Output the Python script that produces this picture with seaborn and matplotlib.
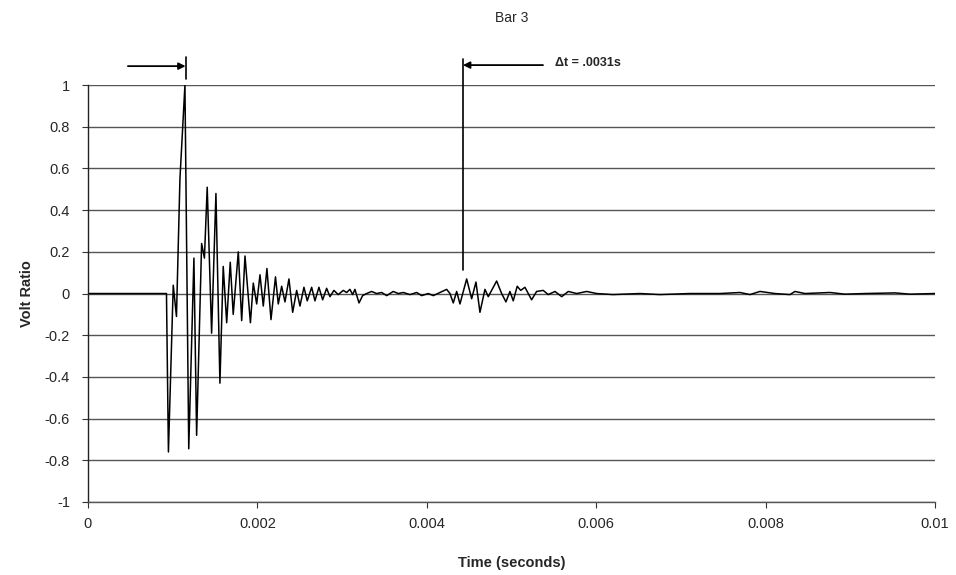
import numpy as np
import pandas as pd
import matplotlib
matplotlib.use("Agg")
import matplotlib.pyplot as plt
import seaborn as sns

# signal: time (s) and volt ratio
time_s = [
    0.0, 0.000909, 0.000927, 0.000950, 0.001007, 0.001045, 0.001086, 0.001145,
    0.001190, 0.001251, 0.001283, 0.001342, 0.001375, 0.001408, 0.001460,
    0.001511, 0.001558, 0.001597, 0.001638, 0.001680, 0.001715, 0.001775,
    0.001815, 0.001854, 0.001918, 0.001952, 0.001992, 0.002031, 0.002070,
    0.002113, 0.002161, 0.002214, 0.002247, 0.002287, 0.002326, 0.002373,
    0.002417, 0.002464, 0.002503, 0.002550, 0.002589, 0.002641, 0.002680,
    0.002727, 0.002771, 0.002818, 0.002857, 0.002904, 0.002955, 0.003014,
    0.003054, 0.003093, 0.003125, 0.003152, 0.003200, 0.003243, 0.003290,
    0.003349, 0.003408, 0.003468, 0.003527, 0.003604, 0.003664, 0.003723,
    0.003802, 0.003881, 0.003940, 0.004018, 0.004077, 0.004156, 0.004235,
    0.004274, 0.004313, 0.004353, 0.004392, 0.004471, 0.004530, 0.004581,
    0.004628, 0.004687, 0.004726, 0.004825, 0.004884, 0.004935, 0.004982,
    0.005021, 0.005068, 0.005109, 0.005159, 0.005238, 0.005297, 0.005375,
    0.005434, 0.005514, 0.005593, 0.005671, 0.005770, 0.005888, 0.006006,
    0.006198, 0.006517, 0.006753, 0.007107, 0.007462, 0.007698, 0.007816,
    0.007934, 0.008111, 0.008288, 0.008347, 0.008465, 0.008760, 0.008937,
    0.009174, 0.009528, 0.009705, 0.010000,
]
volt_ratio = [
    0.0, 0.0, 0.0, -0.76, 0.04, -0.11, 0.55, 1.0,
    -0.745, 0.17, -0.68, 0.24, 0.17, 0.51, -0.19,
    0.48, -0.43, 0.13, -0.14, 0.15, -0.10, 0.20,
    -0.13, 0.18, -0.14, 0.05, -0.05, 0.09, -0.06,
    0.12, -0.125, 0.08, -0.05, 0.035, -0.04, 0.07,
    -0.09, 0.015, -0.06, 0.03, -0.035, 0.03, -0.035,
    0.03, -0.03, 0.025, -0.015, 0.015, -0.005, 0.015,
    0.005, 0.02, -0.005, 0.02, -0.045, -0.01, 0.0,
    0.01, 0.0, 0.005, -0.01, 0.01, 0.0, 0.005,
    -0.005, 0.005, -0.01, 0.0, -0.01, 0.005, 0.02,
    0.0, -0.045, 0.01, -0.05, 0.07, -0.025, 0.055,
    -0.09, 0.02, -0.015, 0.06, 0.0, -0.04, 0.01,
    -0.035, 0.035, 0.015, 0.03, -0.03, 0.01, 0.015,
    -0.005, 0.01, -0.015, 0.01, 0.0, 0.01, 0.0,
    -0.005, 0.0, -0.005, 0.0, 0.0, 0.005, -0.005,
    0.01, 0.0, -0.005, 0.01, 0.0, 0.005, -0.003,
    0.0, 0.003, -0.003, 0.0,
]

x_ticks = [0, 0.002, 0.004, 0.006, 0.008, 0.01]
x_tick_labels = ["0", "0.002", "0.004", "0.006", "0.008", "0.01"]
y_ticks = [1, 0.8, 0.6, 0.4, 0.2, 0, -0.2, -0.4, -0.6, -0.8, -1]
y_tick_labels = ["1", "0.8", "0.6", "0.4", "0.2", "0", "-0.2", "-0.4", "-0.6", "-0.8", "-1"]

# markers for the two arrivals (time in s)
first_arrival = 0.001153
second_arrival = 0.004427
delta_label = "\u0394t = .0031s"

sns.set_theme(style="white")
plt.rcParams["font.family"] = ["Liberation Sans", "DejaVu Sans"]

fig = plt.figure(figsize=(9.56, 5.75), dpi=100)
ax = fig.add_axes([0.092, 0.127, 0.886, 0.725])

df = pd.DataFrame({"t": time_s, "v": volt_ratio})
sns.lineplot(data=df, x="t", y="v", ax=ax, color="black", linewidth=1.1,
             sort=False, estimator=None)

ax.set_xlim(0, 0.01)
ax.set_ylim(-1, 1)
for yv in y_ticks:
    ax.axhline(yv, color="#555555", linewidth=1.0, zorder=0)

ax.set_xticks(x_ticks)
ax.set_xticklabels(x_tick_labels, fontsize=10.5)
ax.set_yticks(y_ticks)
ax.set_yticklabels(y_tick_labels, fontsize=10.5)
ax.tick_params(axis="both", direction="out", length=4, width=0.8, color="#333333",
               bottom=True, left=True, pad=9)
ax.tick_params(axis="x", pad=7)

for side in ["top", "right"]:
    ax.spines[side].set_visible(False)
ax.spines["left"].set_color("#222222")
ax.spines["bottom"].set_color("#555555")
ax.spines["left"].set_linewidth(1.0)
ax.spines["bottom"].set_linewidth(1.0)

ax.set_xlabel("Time (seconds)", fontsize=10.5, fontweight="bold", labelpad=18)
ax.set_ylabel("Volt Ratio", fontsize=10.5, fontweight="bold", labelpad=8)
fig.text(0.535, 0.968, "Bar 3", ha="center", va="center", fontsize=10)

# arrival markers and arrows
ax.plot([first_arrival, first_arrival], [1.03, 1.135], color="black", lw=1.2, clip_on=False)
ax.annotate("", xy=(first_arrival, 1.091), xytext=(0.000472, 1.091),
            arrowprops=dict(arrowstyle="-|>", color="black", lw=1.3,
                            mutation_scale=10, shrinkA=0, shrinkB=0),
            annotation_clip=False)
ax.plot([second_arrival, second_arrival], [0.115, 1.125], color="black", lw=1.2, clip_on=False)
ax.annotate("", xy=(second_arrival, 1.096), xytext=(0.005372, 1.096),
            arrowprops=dict(arrowstyle="-|>", color="black", lw=1.3,
                            mutation_scale=10, shrinkA=0, shrinkB=0),
            annotation_clip=False)
ax.text(0.005514, 1.105, delta_label, fontsize=9, fontweight="bold",
        ha="left", va="center", clip_on=False)

fig.savefig("out.png", dpi=100)
